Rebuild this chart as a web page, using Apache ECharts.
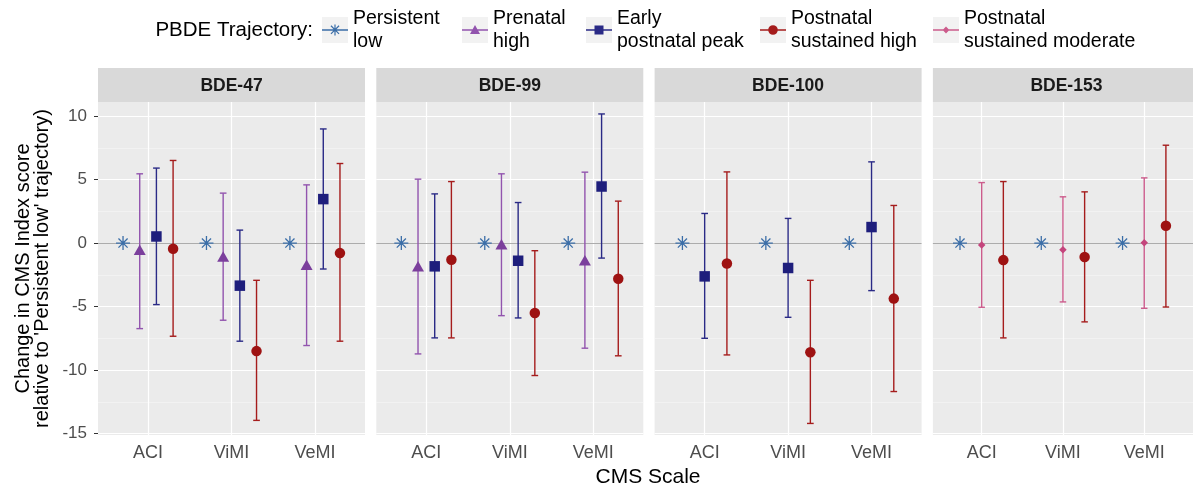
<!DOCTYPE html>
<html>
<head>
<meta charset="utf-8">
<script src="https://cdn.jsdelivr.net/npm/echarts@6/dist/echarts.min.js"></script>
<style>
  html, body { margin: 0; padding: 0; background: #ffffff; }
  #chart { width: 1193px; height: 489px; }
</style>
</head>
<body>
<div id="chart"></div>
<script>
// ---- data ----------------------------------------------------------------
const scales = ['ACI', 'ViMI', 'VeMI'];
const congeners = ['BDE-47', 'BDE-99', 'BDE-100', 'BDE-153'];
const trajectories = [
  'Persistent\nlow',
  'Prenatal\nhigh',
  'Early\npostnatal peak',
  'Postnatal\nsustained high',
  'Postnatal\nsustained moderate'
];
const yTicks = [-15, -10, -5, 0, 5, 10];
const yMinorTicks = [-12.5, -7.5, -2.5, 2.5, 7.5];

// reference trajectory: zero by definition, no interval
const persistentLow = [0, 0, 0];

// [estimate, lower CI, upper CI] for ACI, ViMI, VeMI
const bde47Prenatal  = [[-0.52, -6.73, 5.45], [-1.05, -6.07, 3.93], [-1.70, -8.06, 4.58]];
const bde47Early     = [[ 0.52, -4.84, 5.90], [-3.35, -7.72, 1.02], [ 3.46, -2.04, 8.98]];
const bde47SustHigh  = [[-0.45, -7.33, 6.50], [-8.50, -13.95, -2.93], [-0.79, -7.72, 6.26]];

const bde99Prenatal  = [[-1.83, -8.72, 5.03], [-0.10, -5.71, 5.45], [-1.36, -8.27, 5.58]];
const bde99Early     = [[-1.83, -7.46, 3.87], [-1.39, -5.89, 3.19], [ 4.45, -1.18, 10.16]];
const bde99SustHigh  = [[-1.31, -7.46, 4.84], [-5.50, -10.42, -0.60], [-2.80, -8.87, 3.30]];

const bde100Early    = [[-2.62, -7.49, 2.33], [-1.96, -5.84, 1.94], [ 1.26, -3.74, 6.39]];
const bde100SustHigh = [[-1.60, -8.80, 5.60], [-8.59, -14.19, -2.93], [-4.37, -11.68, 2.96]];

const bde153Moderate = [[-0.16, -5.05, 4.76], [-0.52, -4.63, 3.64], [ 0.03, -5.13, 5.13]];
const bde153SustHigh = [[-1.34, -7.46, 4.84], [-1.10, -6.20, 4.03], [ 1.36, -5.03, 7.70]];

// which trajectories appear in each congener panel (index into trajectories)
const panelGroups = [
  [[0, null], [1, bde47Prenatal], [2, bde47Early], [3, bde47SustHigh]],
  [[0, null], [1, bde99Prenatal], [2, bde99Early], [3, bde99SustHigh]],
  [[0, null], [2, bde100Early], [3, bde100SustHigh]],
  [[0, null], [4, bde153Moderate], [3, bde153SustHigh]]
];

// ---- styling -------------------------------------------------------------
const FONT = '"Liberation Sans", Arial, Helvetica, sans-serif';
const PANEL_LEFT = 98, PANEL_STEP = 278.3, PANEL_W = 267;
const PANEL_TOP = 102, PANEL_H = 333, STRIP_H = 34;
const Y_MIN = -15.1, Y_MAX = 11.1;
const DODGE = 0.8, CAP_WIDTH = 0.08;

const ASTERISK = 'M9.4 3.5h1.2v13h-1.2Z M3.5 9.4h13v1.2h-13Z ' +
  'M5.33 6.18L6.18 5.33L14.67 13.82L13.82 14.67Z M13.82 5.33L14.67 6.18L6.18 14.67L5.33 13.82Z';
const trajStyle = [
  { color: '#3B6EA8', bar: '#3B6EA8', symbol: 'path://' + ASTERISK, size: 14,
    key: 'M12.4 4.5h1.2v11h-1.2Z M7.5 9.4h11v1.2h-11Z M8.53 6.18L9.38 5.33L17.47 13.42L16.62 14.27Z M16.62 5.33L17.47 6.18L9.38 14.27L8.53 13.42Z' },
  { color: '#7B3F9C', bar: '#9254AE', symbol: 'triangle', size: [12, 10.5],
    key: 'M13 5L18 14L8 14Z' },
  { color: '#1E1E7C', bar: '#2A2A86', symbol: 'rect', size: 10.5,
    key: 'M8.5 5.5h9v9h-9Z' },
  { color: '#9E1212', bar: '#A51C1C', symbol: 'circle', size: 10.5,
    key: 'M17.8 10A4.8 4.8 0 1 1 8.2 10A4.8 4.8 0 1 1 17.8 10Z' },
  { color: '#C4457C', bar: '#CC5C8C', symbol: 'diamond', size: 7.5,
    key: 'M13 6.6L16.4 10L13 13.4L9.6 10Z' }
];
// legend key: horizontal rule through the marker, path box 26 x 20
const keyIcon = (i) => 'path://M0 0M26 20M0 9.3h26v1.4h-26Z ' + trajStyle[i].key;

function renderErrorBar(params, api) {
  const x = api.value(0);
  const top = api.coord([x, api.value(2)]);
  const bot = api.coord([x, api.value(1)]);
  const half = api.size([CAP_WIDTH, 0])[0] / 2;
  const style = { stroke: api.visual('color'), lineWidth: 1.4, fill: null };
  return {
    type: 'group',
    children: [
      { type: 'line', shape: { x1: top[0], y1: top[1], x2: bot[0], y2: bot[1] }, style },
      { type: 'line', shape: { x1: top[0] - half, y1: top[1], x2: top[0] + half, y2: top[1] }, style },
      { type: 'line', shape: { x1: bot[0] - half, y1: bot[1], x2: bot[0] + half, y2: bot[1] }, style }
    ]
  };
}

// ---- option --------------------------------------------------------------
const grids = [], xAxes = [], yAxes = [], series = [], graphics = [];

congeners.forEach((name, p) => {
  const left = PANEL_LEFT + p * PANEL_STEP;
  grids.push({
    left: left, top: PANEL_TOP, width: PANEL_W, height: PANEL_H,
    show: true, backgroundColor: '#EBEBEB', borderWidth: 0
  });
  xAxes.push({
    gridIndex: p, type: 'value', min: 0.4, max: 3.6,
    axisLine: { show: false },
    splitLine: { show: false },
    axisTick: { show: true, customValues: [1, 2, 3], length: 4, lineStyle: { color: '#333333', width: 1 } },
    axisLabel: {
      customValues: [1, 2, 3], formatter: (v) => scales[Math.round(v) - 1] || '',
      color: '#4D4D4D', fontSize: 18, fontFamily: FONT, margin: 9
    }
  });
  yAxes.push({
    gridIndex: p, type: 'value', min: Y_MIN, max: Y_MAX,
    axisLine: { show: false },
    splitLine: { show: false },
    axisTick: { show: p === 0, customValues: yTicks, length: 4, lineStyle: { color: '#333333', width: 1 } },
    axisLabel: {
      show: p === 0, customValues: yTicks, formatter: (v) => String(v),
      color: '#4D4D4D', fontSize: 17, fontFamily: FONT, margin: 11
    },
    name: p === 0 ? "Change in CMS Index score\nrelative to 'Persistent low' trajectory)" : '',
    nameLocation: 'middle', nameRotate: 90, nameGap: 46,
    nameTextStyle: { color: '#000000', fontSize: 20, fontFamily: FONT, lineHeight: 19, align: 'center' }
  });

  // panel grid lines and the zero reference line
  series.push({
    type: 'line', xAxisIndex: p, yAxisIndex: p, data: [], silent: true, z: 1,
    markLine: {
      silent: true, symbol: ['none', 'none'], label: { show: false }, animation: false, z: 1,
      emphasis: { disabled: true },
      data: [
        ...yMinorTicks.map(v => ({ yAxis: v, lineStyle: { color: '#F6F6F6', width: 0.6, type: 'solid' } })),
        ...yTicks.map(v => ({ yAxis: v, lineStyle: { color: '#FFFFFF', width: 1.2, type: 'solid' } })),
        ...[1, 2, 3].map(v => ({ xAxis: v, lineStyle: { color: '#FFFFFF', width: 1.2, type: 'solid' } }))
      ]
    }
  });
  series.push({
    type: 'line', xAxisIndex: p, yAxisIndex: p, data: [], silent: true, z: 2,
    markLine: {
      silent: true, symbol: ['none', 'none'], label: { show: false }, animation: false, z: 2,
      emphasis: { disabled: true },
      data: [{ yAxis: 0, lineStyle: { color: '#A3A3A3', width: 0.9, type: 'solid' } }]
    }
  });

  const groups = panelGroups[p];
  const n = groups.length;
  groups.forEach(([t, values], i) => {
    const offset = -DODGE / 2 + DODGE * (i + 0.5) / n;
    const st = trajStyle[t];
    const est = values ? values.map(r => r[0]) : persistentLow;
    if (values) {
      series.push({
        name: trajectories[t], type: 'custom', xAxisIndex: p, yAxisIndex: p, z: 3,
        renderItem: renderErrorBar, itemStyle: { color: st.bar }, silent: true,
        encode: { x: 0, y: [1, 2] },
        data: values.map((r, k) => [k + 1 + offset, r[1], r[2]])
      });
    }
    series.push({
      name: trajectories[t], type: 'scatter', xAxisIndex: p, yAxisIndex: p, z: 4,
      symbol: st.symbol, symbolSize: st.size,
      itemStyle: { color: st.color, opacity: 1 },
      data: est.map((v, k) => [k + 1 + offset, v])
    });
  });

  // facet strip
  graphics.push({
    type: 'rect', left: left, top: PANEL_TOP - STRIP_H, z: 0,
    shape: { width: PANEL_W, height: STRIP_H }, style: { fill: '#D9D9D9' }
  });
  graphics.push({
    type: 'text', x: left + PANEL_W / 2, y: PANEL_TOP - STRIP_H / 2 + 1, z: 1,
    style: {
      text: name, fill: '#1A1A1A', font: 'bold 17.5px ' + FONT,
      textAlign: 'center', textVerticalAlign: 'middle'
    }
  });
});

// x axis title across the panels
graphics.push({
  type: 'text', x: 648, y: 477, z: 1,
  style: { text: 'CMS Scale', fill: '#000000', font: '21px ' + FONT, textAlign: 'center', textVerticalAlign: 'middle' }
});

// legend title and one legend block per trajectory, each with a grey key
const LEGEND_CY = 30, KEY_W = 26, KEY_H = 26, LEGEND_LINE = 23;
const keyCenters = [335, 475, 599, 773, 946];
graphics.push({
  type: 'text', x: 313, y: LEGEND_CY, z: 1,
  style: { text: 'PBDE Trajectory:', fill: '#000000', font: '20.5px ' + FONT, textAlign: 'right', textVerticalAlign: 'middle' }
});
const legends = trajectories.map((name, t) => {
  graphics.push({
    type: 'rect', left: keyCenters[t] - KEY_W / 2, top: LEGEND_CY - KEY_H / 2, z: 0,
    shape: { width: KEY_W, height: KEY_H }, style: { fill: '#F2F2F2' }
  });
  return {
    data: [{ name: name, icon: keyIcon(t) }],
    left: keyCenters[t] - KEY_W / 2, top: LEGEND_CY - LEGEND_LINE,
    padding: 0, itemWidth: KEY_W, itemHeight: 20, itemGap: 0, itemTextGap: 5,
    selectedMode: false,
    textStyle: { color: '#000000', fontSize: 19.5, fontFamily: FONT, lineHeight: LEGEND_LINE }
  };
});

const chart = echarts.init(document.getElementById('chart'), null, { renderer: 'canvas' });
chart.setOption({
  animation: false,
  backgroundColor: '#FFFFFF',
  grid: grids,
  xAxis: xAxes,
  yAxis: yAxes,
  legend: legends,
  graphic: graphics,
  series: series
});
</script>
</body>
</html>
